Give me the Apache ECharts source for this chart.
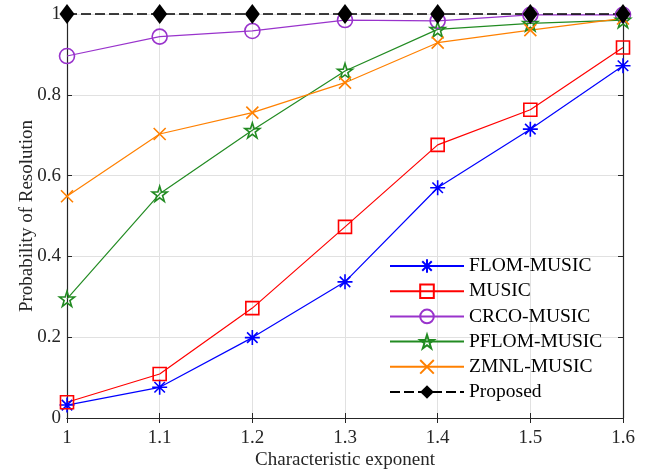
<!DOCTYPE html>
<html>
<head>
<meta charset="utf-8">
<script src="https://cdn.jsdelivr.net/npm/echarts@6/dist/echarts.min.js"></script>
<style>
  html, body { margin: 0; padding: 0; background: #fff; }
  #chart { width: 649px; height: 475px; }
</style>
</head>
<body>
<div id="chart"></div>
<script>
// Characteristic exponent (alpha) values on the x axis
const alphaTicks = ['1', '1.1', '1.2', '1.3', '1.4', '1.5', '1.6'];

// Probability of resolution for each method
const flomMusic  = [0.032, 0.076, 0.199, 0.337, 0.570, 0.715, 0.872];
const music      = [0.039, 0.109, 0.272, 0.473, 0.676, 0.763, 0.917];
const crcoMusic  = [0.896, 0.944, 0.958, 0.985, 0.983, 0.998, 0.998];
const pflomMusic = [0.295, 0.555, 0.712, 0.859, 0.962, 0.977, 0.985];
const zmnlMusic  = [0.549, 0.703, 0.756, 0.830, 0.929, 0.960, 0.989];
const proposed   = [1, 1, 1, 1, 1, 1, 1];

const FONT = '"Liberation Serif", "DejaVu Serif", serif';
const AXIS_COLOR = '#262626';
const GRID_COLOR = '#e1e1e1';

// Stroke-only marker shapes
const ASTERISK = 'path://M0,5 L10,5 M5,0 L5,10 M1.5,1.5 L8.5,8.5 M8.5,1.5 L1.5,8.5';
const CROSS = 'path://M0,0 L10,10 M10,0 L0,10';
const STAR = 'path://M50,0 L61.8,36.3 L100,36.3 L69.1,58.8 L80.9,95.1 L50,72.7 L19.1,95.1 L30.9,58.8 L0,36.3 L38.2,36.3 Z';

function hollowSeries(name, data, color, symbol, size) {
  return {
    name, type: 'line', data,
    symbol, symbolSize: size,
    clip: false,
    lineStyle: { color, width: 1.2 },
    itemStyle: { color: 'rgba(0,0,0,0)', borderColor: color, borderWidth: 1.6 },
    emphasis: { disabled: true }
  };
}

const chart = echarts.init(document.getElementById('chart'), null, { renderer: 'canvas' });

// Top and right edges of the box, ticks only
const frameAxis = {
  axisLine: { show: true, lineStyle: { color: AXIS_COLOR, width: 1.2 } },
  axisTick: { show: true, inside: true, length: 5, lineStyle: { color: AXIS_COLOR } },
  axisLabel: { show: false },
  splitLine: { show: false }
};

chart.setOption({
  animation: false,
  backgroundColor: '#fff',
  grid: { left: 67, right: 26, top: 14, bottom: 56, containLabel: false },
  xAxis: [
    {
      type: 'category', data: alphaTicks, boundaryGap: false,
      name: 'Characteristic exponent', nameLocation: 'middle', nameGap: 33,
      nameMoveOverlap: false,
      nameTextStyle: { fontFamily: FONT, fontSize: 19, color: AXIS_COLOR, verticalAlign: 'top' },
      axisLine: { lineStyle: { color: AXIS_COLOR, width: 1.2 } },
      axisTick: { inside: true, length: 5, alignWithLabel: true, lineStyle: { color: AXIS_COLOR } },
      axisLabel: { fontFamily: FONT, fontSize: 19, color: AXIS_COLOR, margin: 11 },
      splitLine: { show: true, lineStyle: { color: GRID_COLOR, width: 1 } }
    },
    Object.assign({ type: 'category', data: alphaTicks, boundaryGap: false, position: 'top' }, frameAxis)
  ],
  yAxis: [
    {
      type: 'value', min: 0, max: 1, interval: 0.2,
      name: 'Probability of Resolution', nameLocation: 'middle', nameGap: 30,
      nameMoveOverlap: false,
      nameTextStyle: { fontFamily: FONT, fontSize: 19, color: AXIS_COLOR },
      axisLine: { show: true, lineStyle: { color: AXIS_COLOR, width: 1.2 } },
      axisTick: { show: true, inside: true, length: 5, lineStyle: { color: AXIS_COLOR } },
      axisLabel: { fontFamily: FONT, fontSize: 19, color: AXIS_COLOR, margin: 6 },
      splitLine: { show: true, lineStyle: { color: GRID_COLOR, width: 1 } }
    },
    Object.assign({ type: 'value', min: 0, max: 1, interval: 0.2, position: 'right' }, frameAxis)
  ],
  legend: {
    orient: 'vertical', left: 384, top: 251,
    itemWidth: 74, itemHeight: 17, itemGap: 5.2,
    textStyle: { fontFamily: FONT, fontSize: 19.5, color: '#000' },
    data: ['FLOM-MUSIC', 'MUSIC', 'CRCO-MUSIC', 'PFLOM-MUSIC', 'ZMNL-MUSIC', 'Proposed']
  },
  series: [
    hollowSeries('FLOM-MUSIC', flomMusic, '#0000ff', ASTERISK, 15),
    hollowSeries('MUSIC', music, '#ff0000', 'rect', 13),
    hollowSeries('CRCO-MUSIC', crcoMusic, '#9933cc', 'circle', 15),
    hollowSeries('PFLOM-MUSIC', pflomMusic, '#228b22', STAR, 15),
    hollowSeries('ZMNL-MUSIC', zmnlMusic, '#ff8000', CROSS, 12),
    {
      name: 'Proposed', type: 'line', data: proposed,
      symbol: 'diamond', symbolSize: [15, 20], clip: false,
      lineStyle: { color: '#000', width: 1.3, type: [10, 4] },
      itemStyle: { color: '#000' },
      emphasis: { disabled: true }
    }
  ]
});
</script>
</body>
</html>
